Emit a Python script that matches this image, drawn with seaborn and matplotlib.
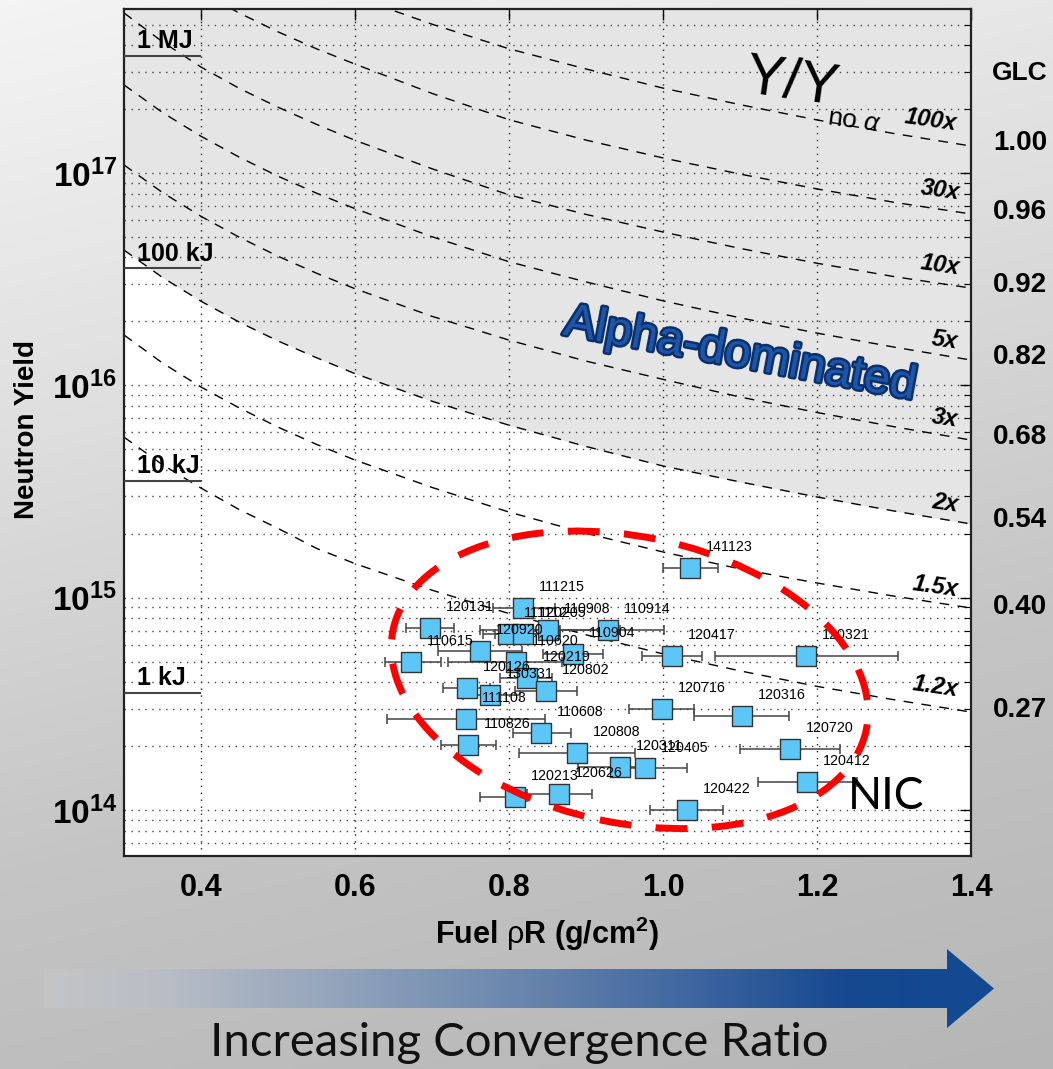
import numpy as np
import pandas as pd
import matplotlib
matplotlib.use("Agg")
import matplotlib.pyplot as plt
import seaborn as sns
import matplotlib.patheffects as pe
import matplotlib.transforms as mtransforms
from matplotlib.patches import Ellipse, Polygon
from matplotlib.colors import LinearSegmentedColormap
from matplotlib.ticker import FixedLocator, FixedFormatter, LogLocator, NullFormatter

# ---------------- data ----------------
shots = ["141123", "111215", "120131", "110908", "110914", "111112", "120205",
         "120920", "110615", "110620", "110904", "120219", "120126", "130331",
         "120802", "111103", "110608", "110826", "120808", "120311", "120405",
         "120213", "120626", "120716", "120316", "120720", "120412", "120422",
         "120417", "120321"]
rho_r = [1.035, 0.818, 0.697, 0.851, 0.929, 0.799, 0.818,
         0.762, 0.673, 0.809, 0.883, 0.823, 0.745, 0.775,
         0.848, 0.744, 0.842, 0.747, 0.888, 0.944, 0.977,
         0.808, 0.865, 0.999, 1.103, 1.165, 1.187, 1.031,
         1.012, 1.186]
rho_r_low = [1.000, 0.779, 0.666, 0.762, 0.866, 0.766, 0.782,
             0.708, 0.639, 0.721, 0.844, 0.788, 0.714, 0.740,
             0.808, 0.642, 0.805, 0.712, 0.813, 0.890, 0.935,
             0.762, 0.823, 0.956, 1.040, 1.100, 1.123, 0.983,
             0.973, 1.068]
rho_r_high = [1.071, 0.860, 0.729, 0.944, 1.001, 0.840, 0.866,
              0.817, 0.712, 0.869, 0.922, 0.856, 0.775, 0.814,
              0.888, 0.847, 0.881, 0.783, 0.964, 0.983, 1.031,
              0.823, 0.908, 1.040, 1.164, 1.230, 1.252, 1.078,
              1.051, 1.305]
neutron_yield = [1.38e15, 8.93e14, 7.19e14, 7.03e14, 7.03e14, 6.74e14, 6.74e14,
                 5.60e14, 4.97e14, 4.97e14, 5.42e14, 4.18e14, 3.75e14, 3.48e14,
                 3.63e14, 2.68e14, 2.30e14, 2.02e14, 1.85e14, 1.59e14, 1.57e14,
                 1.15e14, 1.19e14, 2.99e14, 2.77e14, 1.94e14, 1.35e14, 9.98e13,
                 5.31e14, 5.31e14]

# yield-amplification contours (rhoR, log10 yield)
c100_x = [0.60, 0.70, 0.80, 0.90, 1.00, 1.10, 1.20, 1.30, 1.40]
c100_logy = [17.829, 17.701, 17.585, 17.490, 17.400, 17.322, 17.250, 17.186, 17.127]
c30_x = [0.40, 0.45, 0.50, 0.55, 0.60, 0.70, 0.80, 0.90, 1.00, 1.10, 1.20, 1.30, 1.40]
c30_logy = [17.850, 17.753, 17.665, 17.585, 17.513, 17.375, 17.251, 17.155, 17.071,
            16.995, 16.925, 16.862, 16.807]
c10_x = [0.30, 0.35, 0.40, 0.45, 0.50, 0.55, 0.60, 0.70, 0.80, 0.90, 1.00, 1.10, 1.20, 1.30, 1.40]
c10_logy = [17.754, 17.618, 17.499, 17.398, 17.310, 17.229, 17.154, 17.020, 16.897,
            16.805, 16.722, 16.645, 16.575, 16.512, 16.458]
c5_x = [0.30, 0.35, 0.40, 0.45, 0.50, 0.55, 0.60, 0.70, 0.80, 0.90, 1.00, 1.10, 1.20, 1.30, 1.40]
c5_logy = [17.415, 17.285, 17.173, 17.074, 16.985, 16.905, 16.832, 16.700, 16.582,
           16.487, 16.398, 16.318, 16.246, 16.180, 16.119]
c3_x = [0.30, 0.35, 0.40, 0.45, 0.50, 0.55, 0.60, 0.70, 0.80, 0.90, 1.00, 1.10, 1.20, 1.30, 1.40]
c3_logy = [17.038, 16.908, 16.796, 16.697, 16.608, 16.528, 16.455, 16.325, 16.213,
           16.114, 16.028, 15.945, 15.872, 15.805, 15.742]
c2_x = [0.30, 0.35, 0.40, 0.45, 0.50, 0.55, 0.60, 0.70, 0.80, 0.90, 1.00, 1.10, 1.20, 1.30, 1.40]
c2_logy = [16.637, 16.508, 16.396, 16.297, 16.209, 16.130, 16.055, 15.925, 15.812,
           15.712, 15.620, 15.545, 15.474, 15.408, 15.347]
c15_x = [0.30, 0.35, 0.40, 0.45, 0.50, 0.55, 0.60, 0.70, 0.80, 0.90, 1.00, 1.10, 1.20, 1.30, 1.40]
c15_logy = [16.237, 16.105, 15.992, 15.893, 15.803, 15.722, 15.648, 15.519, 15.403,
            15.303, 15.215, 15.135, 15.069, 15.007, 14.951]
c12_x = [0.30, 0.35, 0.40, 0.45, 0.50, 0.55, 0.60, 0.70, 0.80, 0.90, 1.00, 1.10, 1.20, 1.30, 1.40]
c12_logy = [15.756, 15.626, 15.516, 15.414, 15.326, 15.232, 15.160, 15.035, 14.925,
            14.825, 14.735, 14.655, 14.582, 14.519, 14.461]

curve_labels = ["100x", "30x", "10x", "5x", "3x", "2x", "1.5x", "1.2x"]
curve_label_x = [1.347, 1.360, 1.360, 1.366, 1.366, 1.366, 1.353, 1.353]
curve_label_logy = [17.250, 16.920, 16.567, 16.213, 15.846, 15.446, 15.050, 14.579]
glc_values = ["1.00", "0.96", "0.92", "0.82", "0.68", "0.54", "0.40", "0.27"]
glc_logy = [17.141, 16.816, 16.472, 16.133, 15.756, 15.365, 14.956, 14.471]

energy_labels = ["1 MJ", "100 kJ", "10 kJ", "1 kJ"]
energy_yields = [3.55e17, 3.55e16, 3.55e15, 3.55e14]

x_ticks = [0.4, 0.6, 0.8, 1.0, 1.2, 1.4]
x_tick_labels = ["0.4", "0.6", "0.8", "1.0", "1.2", "1.4"]
y_ticks = [1e14, 1e15, 1e16, 1e17]
y_tick_labels = [r"$\mathbf{10^{14}}$", r"$\mathbf{10^{15}}$",
                 r"$\mathbf{10^{16}}$", r"$\mathbf{10^{17}}$"]

# ---------------- style ----------------
sns.set_style("white")
plt.rcParams["font.family"] = ["Liberation Sans", "DejaVu Sans"]
plt.rcParams["mathtext.fontset"] = "custom"
plt.rcParams["mathtext.rm"] = "Liberation Sans"
plt.rcParams["mathtext.it"] = "Liberation Sans:italic"
plt.rcParams["mathtext.bf"] = "Liberation Sans:bold"
for k in ["text.color", "axes.labelcolor", "xtick.color", "ytick.color"]:
    plt.rcParams[k] = "black"

W, H = 1053, 1069
fig = plt.figure(figsize=(W / 100, H / 100), dpi=100)

# background gradient + arrow (figure pixel space)
bg = fig.add_axes([0, 0, 1, 1], zorder=-10)
bg.set_xlim(0, W)
bg.set_ylim(H, 0)
bg.axis("off")
yy, xx = np.mgrid[0:H:4, 0:W:4]
shade = 0.8 * yy / H + 0.2 * xx / W
bg_cmap = LinearSegmentedColormap.from_list("bg", ["#f4f4f4", "#dedede", "#c4c4c4", "#b6b6b6"])
bg.imshow(shade, cmap=bg_cmap, extent=[0, W, H, 0], aspect="auto", interpolation="bilinear")

arrow_cmap = LinearSegmentedColormap.from_list(
    "arr", [(0.0, "#c4c4c4"), (0.12, "#b9bec6"), (0.3, "#94a5bc"), (0.5, "#6a86ad"),
            (0.7, "#3a639e"), (0.85, "#15488f"), (1.0, "#124a92")])
grad = np.linspace(0, 1, 512).reshape(1, -1)
arrow_img = bg.imshow(grad, cmap=arrow_cmap, extent=[44, 994, 1030, 947], aspect="auto")
arrow_poly = Polygon([[44, 969], [947, 969], [947, 949], [994, 988.5], [947, 1028],
                      [947, 1008], [44, 1008]], closed=True, facecolor="none", edgecolor="none")
bg.add_patch(arrow_poly)
arrow_img.set_clip_path(arrow_poly)
bg.text(519, 1043, "Increasing Convergence Ratio", ha="center", va="center",
        fontsize=34, family=["Lato", "DejaVu Sans"], color="#111111")

# main axes
ax = fig.add_axes([124 / W, 1 - 856 / H, 847 / W, 847 / H])
ax.set_facecolor("white")
ax.set_yscale("log")
ax.set_xlim(0.3, 1.4)
ax.set_ylim(10 ** 13.783, 10 ** 17.7725)

# shaded alpha-dominated region above the 2x contour
ax.fill_between(c2_x, np.power(10.0, c2_logy), 1e19, color="#e5e5e5", zorder=0.2, lw=0)

# contours
for cx, cy in [(c100_x, c100_logy), (c30_x, c30_logy), (c10_x, c10_logy), (c5_x, c5_logy),
               (c3_x, c3_logy), (c2_x, c2_logy), (c15_x, c15_logy), (c12_x, c12_logy)]:
    ax.plot(cx, np.power(10.0, cy), color="black", lw=1.0, dashes=(7, 6), zorder=2)

for lab, lx, ly in zip(curve_labels, curve_label_x, curve_label_logy):
    ax.text(lx, 10 ** ly, lab, ha="center", va="center", fontsize=17, fontweight="bold",
            style="italic", rotation=-8, zorder=5)

# energy lines
ax.hlines(energy_yields, 0.3, 0.4, color="#444444", lw=1.5, zorder=3)
for lab, ey in zip(energy_labels, energy_yields):
    ax.annotate(lab, (0.317, ey), xytext=(0, 2), textcoords="offset points",
                ha="left", va="bottom", fontsize=18, fontweight="bold", zorder=5)

# data
df = pd.DataFrame({"shot": shots, "rhoR": rho_r, "lo": rho_r_low, "hi": rho_r_high,
                   "Y": neutron_yield})
ax.errorbar(df["rhoR"], df["Y"], xerr=[df["rhoR"] - df["lo"], df["hi"] - df["rhoR"]],
            fmt="none", ecolor="#444444", elinewidth=1.1, capsize=3.5, capthick=1.1, zorder=3)
sns.scatterplot(data=df, x="rhoR", y="Y", marker="s", s=200, color="#5cc6f6",
                edgecolor="#333333", linewidth=1.0, ax=ax, zorder=4)
for _, r in df.iterrows():
    ax.annotate(r["shot"], (r["rhoR"], r["Y"]), xytext=(11.5, 15), textcoords="offset points",
                ha="left", va="center", fontsize=10.3, zorder=5)

# NIC ellipse
ell = Ellipse((0.597, 0.208), 0.571, 0.338, angle=-12, transform=ax.transAxes,
              fill=False, edgecolor="#ff0000", lw=5, linestyle=(0, (4.6, 3.5)), zorder=6)
ax.add_patch(ell)
ax.text(1.240, 10 ** 14.061, "NIC", ha="left", va="center", fontsize=32,
        family=["Lato", "DejaVu Sans"], zorder=6)

# annotations
ax.text(1.100, 10 ** 16.143, "Alpha-dominated", ha="center", va="center", fontsize=34,
        color="#1d56a6", rotation=-10.5, rotation_mode="anchor", zorder=6,
        path_effects=[pe.Stroke(linewidth=3.5, foreground="#0a2f6e"), pe.Normal()])
ax.text(1.168, 10 ** 17.424, "Y/Y", ha="center", va="center", fontsize=42,
        rotation=-8, rotation_mode="anchor", zorder=6)
ax.text(1.248, 10 ** 17.245, r"no $\alpha$", ha="center", va="center", fontsize=19,
        rotation=-8, rotation_mode="anchor", zorder=6)

# GLC column
blend = mtransforms.blended_transform_factory(ax.transAxes, ax.transData)
ax.text(1.058, 10 ** 17.471, "GLC", transform=blend, ha="center", va="center",
        fontsize=19, fontweight="bold")
for g, gy in zip(glc_values, glc_logy):
    ax.text(1.058, 10 ** gy, g, transform=blend, ha="center", va="center",
            fontsize=20, fontweight="bold")

# axes, ticks, grid
ax.xaxis.set_major_locator(FixedLocator(x_ticks))
ax.xaxis.set_major_formatter(FixedFormatter(x_tick_labels))
ax.yaxis.set_major_locator(FixedLocator(y_ticks))
ax.yaxis.set_major_formatter(FixedFormatter(y_tick_labels))
ax.yaxis.set_minor_locator(LogLocator(base=10, subs=np.arange(2, 10)))
ax.yaxis.set_minor_formatter(NullFormatter())
ax.tick_params(axis="both", which="both", direction="in", top=True, right=True)
ax.tick_params(axis="x", which="major", length=8, width=1, labelsize=22, pad=12)
ax.tick_params(axis="y", which="major", length=8, width=1, labelsize=24, pad=5)
ax.tick_params(axis="y", which="minor", length=5, width=0.8)
for lab in ax.get_xticklabels():
    lab.set_fontweight("bold")
ax.grid(True, which="major", axis="x", linestyle=(0, (1, 4)), color="#222222", lw=1.0)
ax.grid(True, which="both", axis="y", linestyle=(0, (1, 4)), color="#444444", lw=1.0)
ax.set_axisbelow(True)
for sp in ax.spines.values():
    sp.set_visible(True)
    sp.set_color("#222222")
    sp.set_linewidth(1.6)

ax.set_xlabel(r"Fuel $\mathrm{\rho}$R (g/cm$^\mathbf{2}$)", fontsize=22, fontweight="bold")
ax.set_ylabel("Neutron Yield", fontsize=20, fontweight="bold")
ax.xaxis.set_label_coords(0.4994, -0.069)
ax.yaxis.set_label_coords(-0.099, 0.503)

fig.savefig("out.png", dpi=100)
